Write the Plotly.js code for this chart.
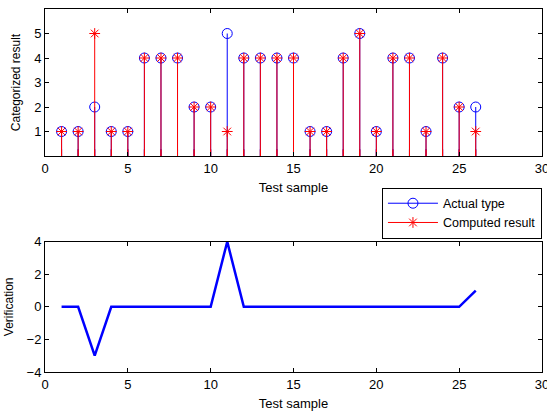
<!DOCTYPE html>
<html>
<head>
<meta charset="utf-8">
<script src="https://cdn.plot.ly/plotly-3.0.1.min.js"></script>
<style>html,body{margin:0;padding:0;background:#fff;}#chart{width:547px;height:414px;}</style>
</head>
<body>
<div id="chart"></div>
<script>
var samples = [1,2,3,4,5,6,7,8,9,10,11,12,13,14,15,16,17,18,19,20,21,22,23,24,25,26];
var actualType = [1,1,2,1,1,4,4,4,2,2,5,4,4,4,4,1,1,4,5,1,4,4,1,4,2,2];
var computedResult = [1,1,5,1,1,4,4,4,2,2,1,4,4,4,4,1,1,4,5,1,4,4,1,4,2,1];
var verification = [0,0,-3,0,0,0,0,0,0,0,4,0,0,0,0,0,0,0,0,0,0,0,0,0,0,1];
var xTicks = [0,5,10,15,20,25,30];
var topYTicks = [1,2,3,4,5];
var bottomYTicks = [-4,-2,0,2,4];

function stems(xs, ys, topSymbol) {
  var x = [], y = [], sym = [];
  for (var i = 0; i < xs.length; i++) {
    x.push(xs[i], xs[i], null);
    y.push(ys[i], 0, null);
    sym.push(topSymbol, 'line-ns-open', topSymbol);
  }
  return {x: x, y: y, sym: sym};
}
var sa = stems(samples, actualType, 'circle-open');
var sc = stems(samples, computedResult, 'asterisk-open');

var font = {family: '"Liberation Sans", Arial, sans-serif', size: 13, color: '#000'};

var traces = [
  {x: sa.x, y: sa.y, mode: 'lines+markers', name: 'Actual type', xaxis: 'x', yaxis: 'y',
   line: {color: '#0000ff', width: 1}, connectgaps: false,
   marker: {symbol: sa.sym, size: 10, color: '#0000ff', line: {width: 1, color: '#0000ff'}}},
  {x: sc.x, y: sc.y, mode: 'lines+markers', name: 'Computed result', xaxis: 'x', yaxis: 'y',
   line: {color: '#ff0000', width: 1}, connectgaps: false,
   marker: {symbol: sc.sym, size: 9, color: '#ff0000', line: {width: 1, color: '#ff0000'}}},
  {x: samples, y: verification, mode: 'lines', name: 'Verification', xaxis: 'x2', yaxis: 'y2',
   line: {color: '#0000ff', width: 2.5}, showlegend: false}
];

var axisCommon = {showline: true, linecolor: '#000', linewidth: 1, mirror: 'allticks',
  ticks: 'inside', ticklen: 4, tickcolor: '#000', showgrid: false, zeroline: false,
  tickfont: font, ticklabeloverflow: 'allow'};

var layout = {
  width: 547, height: 414,
  margin: {l: 45, r: 5, t: 9, b: 42},
  paper_bgcolor: '#fff', plot_bgcolor: '#fff',
  font: font,
  showlegend: true,
  legend: {x: 0.678, y: 0.508, xanchor: 'left', yanchor: 'top', bordercolor: '#000', borderwidth: 1,
           bgcolor: '#fff', font: {family: font.family, size: 12.5, color: '#000'}, tracegroupgap: 0,
           itemwidth: 50},
  xaxis: Object.assign({}, axisCommon, {domain: [0, 1], anchor: 'y', range: [0, 30], tickvals: xTicks,
          title: {text: 'Test sample', font: font, standoff: 8}}),
  yaxis: Object.assign({}, axisCommon, {domain: [0.595, 1], anchor: 'x', range: [0, 6], tickvals: topYTicks,
          title: {text: 'Categorized result', font: {family: font.family, size: 12, color: '#000'}, standoff: 10}}),
  xaxis2: Object.assign({}, axisCommon, {domain: [0, 1], anchor: 'y2', range: [0, 30], tickvals: xTicks,
          title: {text: 'Test sample', font: font, standoff: 8}}),
  yaxis2: Object.assign({}, axisCommon, {domain: [0, 0.359], anchor: 'x2', range: [-4, 4], tickvals: bottomYTicks,
          title: {text: 'Verification', font: {family: font.family, size: 12, color: '#000'}, standoff: 10}})
};

Plotly.newPlot('chart', traces, layout, {displayModeBar: false, staticPlot: true});
</script>
</body>
</html>
